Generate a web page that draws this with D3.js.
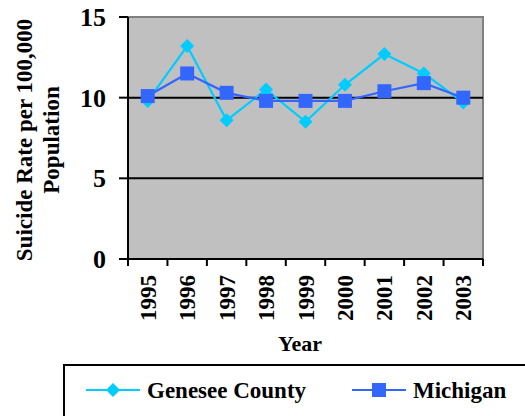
<!DOCTYPE html>
<html>
<head>
<script src="https://cdnjs.cloudflare.com/ajax/libs/d3/7.8.5/d3.min.js"></script>
<style>
  html, body { margin: 0; padding: 0; background: #fff; overflow: hidden; }
  svg { display: block; }
</style>
</head>
<body>
<div id="chart"></div>
<script>
// data
const years = ["1995", "1996", "1997", "1998", "1999", "2000", "2001", "2002", "2003"];
const genesee = [9.8, 13.2, 8.6, 10.5, 8.5, 10.8, 12.7, 11.5, 9.7];
const michigan = [10.1, 11.5, 10.3, 9.8, 9.8, 9.8, 10.4, 10.9, 10.0];
const yTicks = [0, 5, 10, 15];

const W = 525, H = 416;
const FONT = "'Liberation Serif', 'Times New Roman', 'DejaVu Serif', serif";
const plot = {left: 128, right: 483, top: 17, bottom: 259};

const svg = d3.select("#chart").append("svg").attr("width", W).attr("height", H)
  .attr("font-family", FONT).attr("font-weight", "bold");

const x = d3.scaleBand().domain(years).range([plot.left, plot.right]).padding(0);
const y = d3.scaleLinear().domain([0, 15]).range([plot.bottom, plot.top]);

// plot background + gray border
svg.append("rect")
  .attr("x", plot.left).attr("y", plot.top)
  .attr("width", plot.right - plot.left).attr("height", plot.bottom - plot.top)
  .attr("fill", "#c0c0c0").attr("stroke", "#808080").attr("stroke-width", 2);

// gridlines
svg.append("g").selectAll("line")
  .data(yTicks.filter(d => d > 0 && d < 15))
  .join("line")
  .attr("x1", plot.left).attr("x2", plot.right)
  .attr("y1", d => y(d)).attr("y2", d => y(d))
  .attr("stroke", "#000").attr("stroke-width", 2);

// y axis
const yAxis = svg.append("g");
yAxis.append("line")
  .attr("x1", plot.left).attr("x2", plot.left)
  .attr("y1", y(15)).attr("y2", plot.bottom + 1)
  .attr("stroke", "#000").attr("stroke-width", 2);
yAxis.selectAll(".tk").data(yTicks).join("line")
  .attr("x1", plot.left - 9).attr("x2", plot.left)
  .attr("y1", d => y(d)).attr("y2", d => y(d))
  .attr("stroke", "#000").attr("stroke-width", 2);
yAxis.selectAll("text").data(yTicks).join("text")
  .attr("x", 106).attr("y", d => y(d)).attr("dy", "0.35em")
  .attr("text-anchor", "end").attr("font-size", 26)
  .text(d => d);

// x axis
const xAxis = svg.append("g");
xAxis.append("line")
  .attr("x1", plot.left - 9).attr("x2", plot.right)
  .attr("y1", plot.bottom).attr("y2", plot.bottom)
  .attr("stroke", "#000").attr("stroke-width", 2);
const bounds = years.map(d => x(d)).concat([plot.right]);
xAxis.selectAll(".tk").data(bounds).join("line")
  .attr("x1", d => d).attr("x2", d => d)
  .attr("y1", plot.bottom).attr("y2", plot.bottom + 7)
  .attr("stroke", "#000").attr("stroke-width", 2);
xAxis.selectAll("text").data(years).join("text")
  .attr("transform", d => `translate(${x(d) + x.bandwidth() / 2},275) rotate(-90)`)
  .attr("dy", "0.35em").attr("text-anchor", "end")
  .attr("font-size", 23)
  .text(d => d);

// axis titles
svg.append("text")
  .attr("x", 300).attr("y", 351).attr("text-anchor", "middle")
  .attr("font-size", 22).text("Year");
const yt = svg.append("text")
  .attr("transform", "translate(0,140) rotate(-90)")
  .attr("text-anchor", "middle").attr("font-size", 23);
yt.append("tspan").attr("x", 0).attr("y", 32).text("Suicide Rate per 100,000");
yt.append("tspan").attr("x", 0).attr("y", 59).text("Population");

// series
const series = [
  {name: "Genesee County", values: genesee, color: "#00ccff", shape: "diamond"},
  {name: "Michigan", values: michigan, color: "#3366ff", shape: "square"}
];
const line = d3.line().x((d, i) => x(years[i]) + x.bandwidth() / 2).y(d => y(d));

function marker(g, shape, color) {
  if (shape === "diamond") {
    g.append("path").attr("d", "M0,-7L7,0L0,7L-7,0Z").attr("fill", color);
  } else {
    g.append("rect").attr("x", -7).attr("y", -7).attr("width", 14).attr("height", 14).attr("fill", color);
  }
}

series.forEach(s => {
  svg.append("path").datum(s.values)
    .attr("d", line).attr("fill", "none")
    .attr("stroke", s.color).attr("stroke-width", 2.2);
  s.values.forEach((v, i) => {
    const g = svg.append("g")
      .attr("transform", `translate(${x(years[i]) + x.bandwidth() / 2},${y(v)})`);
    marker(g, s.shape, s.color);
  });
});

// legend
const lg = svg.append("g");
lg.append("rect")
  .attr("x", 64).attr("y", 365).attr("width", 480).attr("height", 80)
  .attr("fill", "#fff").attr("stroke", "#000").attr("stroke-width", 2);
const items = [{s: series[0], x0: 86}, {s: series[1], x0: 352}];
items.forEach(it => {
  lg.append("line")
    .attr("x1", it.x0).attr("x2", it.x0 + 54)
    .attr("y1", 390).attr("y2", 390)
    .attr("stroke", it.s.color).attr("stroke-width", 2.2);
  const g = lg.append("g").attr("transform", `translate(${it.x0 + 27},390)`);
  marker(g, it.s.shape, it.s.color);
  lg.append("text")
    .attr("x", it.x0 + 61).attr("y", 398)
    .attr("font-size", 23).text(it.s.name);
});
</script>
</body>
</html>
